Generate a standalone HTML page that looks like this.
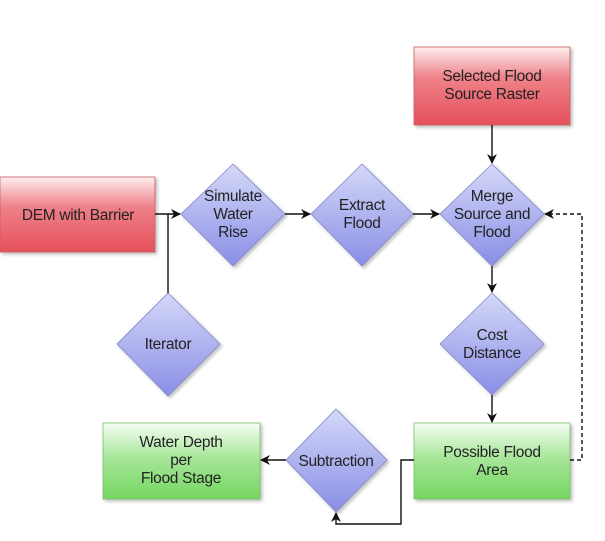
<!DOCTYPE html>
<html><head><style>
body{margin:0;width:605px;height:536px;background:#fff;overflow:hidden;}
svg text{font-family:"Liberation Sans",sans-serif;font-size:15.5px;fill:#222;text-anchor:middle;letter-spacing:-0.3px;}
</style></head><body>
<svg width="605" height="536" viewBox="0 0 605 536">
<defs>
<linearGradient id="r" x1="0" y1="0" x2="0" y2="1"><stop offset="0" stop-color="#fdeeee"/><stop offset="0.4" stop-color="#ee8088"/><stop offset="1" stop-color="#e6505c"/></linearGradient>
<linearGradient id="g" x1="0" y1="0" x2="0" y2="1"><stop offset="0" stop-color="#f7fdf5"/><stop offset="0.45" stop-color="#a8e69a"/><stop offset="1" stop-color="#74d660"/></linearGradient>
<linearGradient id="b" x1="0" y1="0" x2="0" y2="1"><stop offset="0" stop-color="#d4d8f8"/><stop offset="1" stop-color="#8a8ee6"/></linearGradient>
<marker id="a" markerWidth="10" markerHeight="10" refX="9" refY="5" orient="auto" markerUnits="userSpaceOnUse"><path d="M0,0 L10,5 L0,10 L3,5 z" fill="#111"/></marker>
<filter id="s" x="-10%" y="-10%" width="130%" height="130%"><feDropShadow dx="2" dy="2" stdDeviation="1.5" flood-color="#000" flood-opacity="0.25"/></filter>
</defs>
<g stroke="#c85a60" stroke-width="0.8" filter="url(#s)">
<rect x="414" y="47" width="156" height="78" fill="url(#r)"/>
<rect x="0" y="177" width="155" height="75" fill="url(#r)"/>
</g>
<g stroke="#7ac06a" stroke-width="0.8" filter="url(#s)">
<rect x="414" y="423" width="156" height="76" fill="url(#g)"/>
<rect x="103" y="423" width="157" height="76" fill="url(#g)"/>
</g>
<g fill="url(#b)" stroke="#8088c8" stroke-width="0.8" filter="url(#s)">
<polygon points="233,164 285,214 233,266 181,214"/>
<polygon points="362,164 413,214 362,266 311,214"/>
<polygon points="492,164 544,214 492,266 440,214"/>
<polygon points="168,293 220,344 168,396 117,344"/>
<polygon points="492,293 544,344 492,395 440,344"/>
<polygon points="336,409 387,460 336,512 286,460"/>
</g>
<g stroke="#111" stroke-width="1.4" fill="none">
<line x1="492" y1="125" x2="492" y2="163" marker-end="url(#a)"/>
<line x1="155" y1="214" x2="180" y2="214" marker-end="url(#a)"/>
<line x1="168" y1="214" x2="168" y2="293"/>
<line x1="285" y1="214" x2="310" y2="214" marker-end="url(#a)"/>
<line x1="413" y1="214" x2="439" y2="214" marker-end="url(#a)"/>
<line x1="492" y1="266" x2="492" y2="292" marker-end="url(#a)"/>
<line x1="492" y1="395" x2="492" y2="422" marker-end="url(#a)"/>
<line x1="286" y1="460" x2="261" y2="460" marker-end="url(#a)"/>
<polyline points="414,460 401,460 401,524 336,524 336,513" marker-end="url(#a)"/>
<polyline points="570,460 582,460 582,214 545,214" stroke-dasharray="4,3" marker-end="url(#a)"/>
</g>
<text x="492" y="81">Selected Flood</text>
<text x="492" y="99">Source Raster</text>
<text x="78" y="220">DEM with Barrier</text>
<text x="233" y="201">Simulate</text>
<text x="233" y="219">Water</text>
<text x="233" y="237">Rise</text>
<text x="362" y="210">Extract</text>
<text x="362" y="228">Flood</text>
<text x="492" y="201">Merge</text>
<text x="492" y="219">Source and</text>
<text x="492" y="237">Flood</text>
<text x="168" y="349">Iterator</text>
<text x="492" y="340">Cost</text>
<text x="492" y="358">Distance</text>
<text x="336" y="466">Subtraction</text>
<text x="492" y="457">Possible Flood</text>
<text x="492" y="475">Area</text>
<text x="181" y="447">Water Depth</text>
<text x="181" y="465">per</text>
<text x="181" y="483">Flood Stage</text>
</svg>
</body></html>
